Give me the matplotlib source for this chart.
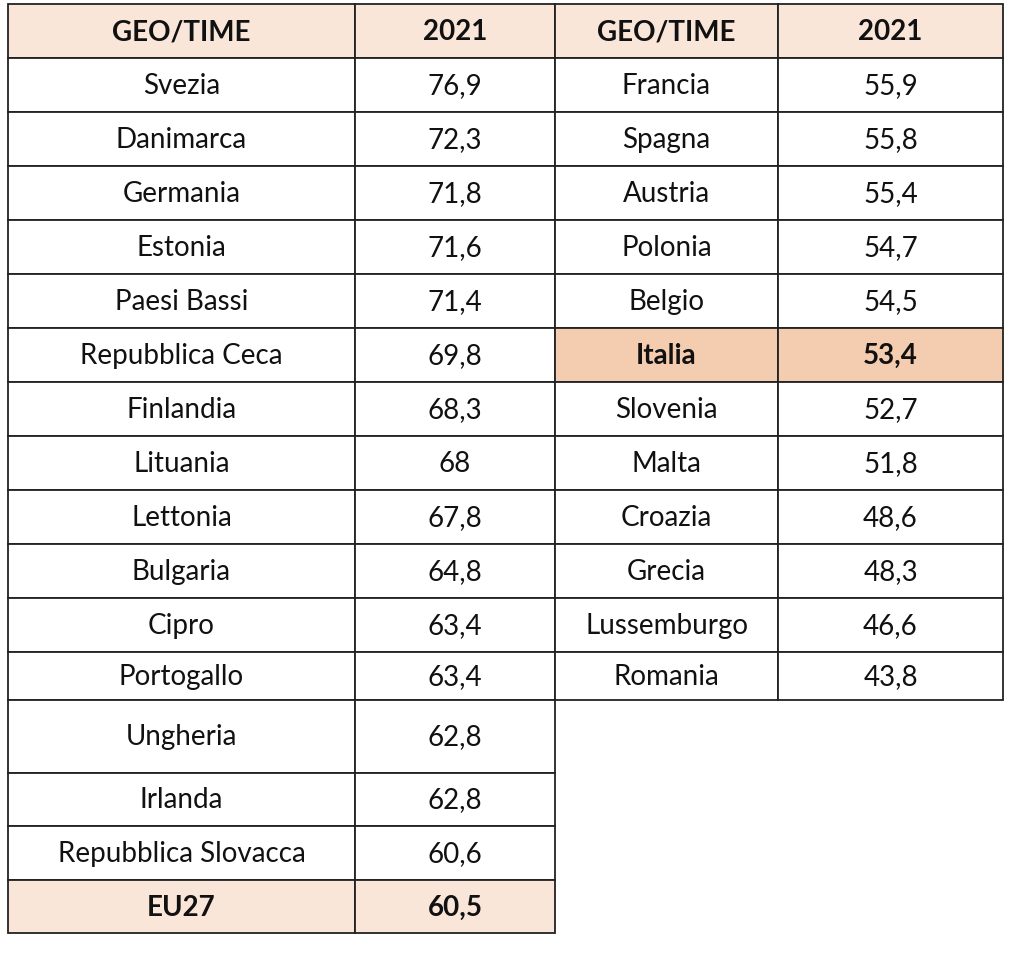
import matplotlib
matplotlib.use("Agg")
import matplotlib.pyplot as plt
from matplotlib.patches import Rectangle

header = ["GEO/TIME", "2021"]
left_countries = ["Svezia", "Danimarca", "Germania", "Estonia", "Paesi Bassi", "Repubblica Ceca",
                  "Finlandia", "Lituania", "Lettonia", "Bulgaria", "Cipro", "Portogallo",
                  "Ungheria", "Irlanda", "Repubblica Slovacca", "EU27"]
left_values = ["76,9", "72,3", "71,8", "71,6", "71,4", "69,8", "68,3", "68", "67,8", "64,8",
               "63,4", "63,4", "62,8", "62,8", "60,6", "60,5"]
right_countries = ["Francia", "Spagna", "Austria", "Polonia", "Belgio", "Italia", "Slovenia",
                   "Malta", "Croazia", "Grecia", "Lussemburgo", "Romania"]
right_values = ["55,9", "55,8", "55,4", "54,7", "54,5", "53,4", "52,7", "51,8", "48,6", "48,3",
                "46,6", "43,8"]

left_edges = [4, 58, 112, 166, 220, 274, 328, 382, 436, 490, 544, 598, 652, 700, 773, 826, 880, 933]
right_edges = left_edges[:14]

HEAD = "#f9e6d9"
ITA = "#f4cdb0"

fig = plt.figure(figsize=(10.24, 9.58), dpi=100)
ax = fig.add_axes([0, 0, 1, 1])
ax.set_xlim(0, 1024); ax.set_ylim(958, 0); ax.axis("off")
plt.rcParams['font.family'] = ['Lato', 'DejaVu Sans']

def table(x0, xm, x1, edges, names, vals, hl_names):
    rows = [header] + list(zip(names, vals))
    for i, (a, b) in enumerate(rows):
        y0, y1 = edges[i], edges[i + 1]
        bold = i == 0 or a in hl_names
        fill = None
        if i == 0:
            fill = HEAD
        elif a == "Italia":
            fill = ITA
        elif a in hl_names:
            fill = HEAD
        for (xa, xb, t) in [(x0, xm, a), (xm, x1, b)]:
            ax.add_patch(Rectangle((xa, y0), xb - xa, y1 - y0, facecolor=fill or "white",
                                   edgecolor="#222222", lw=1.3))
            ax.text((xa + xb) / 2, (y0 + y1) / 2 + 1, t, ha="center", va="center",
                    fontsize=20, fontweight="bold" if bold else "normal", color="#111111")

table(8, 355, 555, left_edges, left_countries, left_values, ["EU27"])
table(555, 778, 1003, right_edges, right_countries, right_values, ["Italia"])
fig.savefig("out.png", dpi=100)
